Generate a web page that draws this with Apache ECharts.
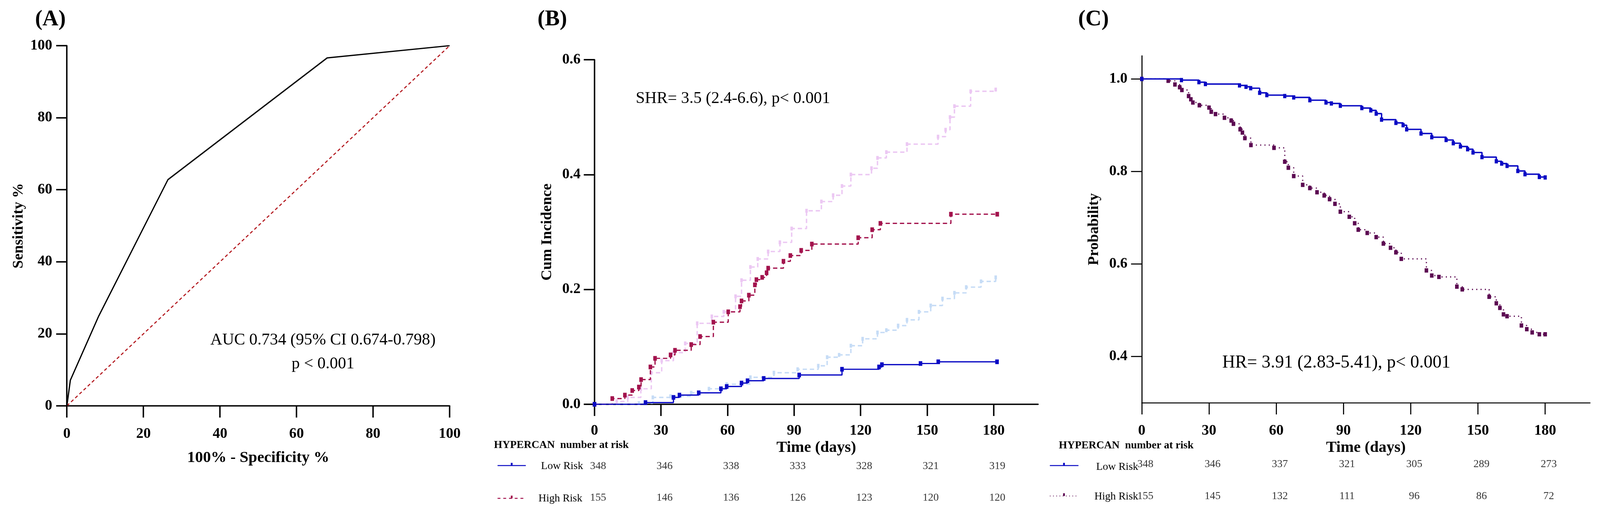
<!DOCTYPE html>
<html>
<head>
<meta charset="utf-8">
<script src="https://cdn.jsdelivr.net/npm/echarts@6/dist/echarts.min.js"></script>
<style>
html,body{margin:0;padding:0;background:#fff;overflow:hidden;}
#c{position:absolute;left:0;top:0;}
</style>
</head>
<body>
<div id="c"></div>
<script>
// ---------- DATA ----------
// Panel A: ROC curve
const rocFPR = [0, 0.9, 8.3, 26.4, 68.0, 100];
const rocTPR = [0, 7.1, 24.9, 62.8, 96.6, 100];
const refFPR = [0, 100];
const refTPR = [0, 100];

// Panel B: cumulative incidence (day at which value starts, value)
const bLowDays  = [0, 23, 35.6, 38.3, 47, 57, 59.6, 66.3, 69, 76.3, 92.3, 111.6, 128.3, 129.6, 147, 155, 181.5];
const bLowCum   = [0, 0.003, 0.012, 0.016, 0.02, 0.027, 0.031, 0.037, 0.041, 0.045, 0.051, 0.061, 0.065, 0.069, 0.071, 0.074, 0.074];
const bHighDays = [0, 8, 13.7, 17, 20, 21, 25.2, 27.3, 34.3, 36.3, 43.6, 47.6, 53.6, 60.3, 65.6, 66.3, 69.6, 72.3, 73, 75.6, 77.6, 78.3, 85.2, 88.3, 93.2, 98, 118.9, 125.2, 128.9, 160.7, 181.6];
const bHighCum  = [0, 0.01, 0.016, 0.024, 0.03, 0.043, 0.065, 0.08, 0.086, 0.094, 0.104, 0.118, 0.143, 0.161, 0.17, 0.18, 0.19, 0.208, 0.217, 0.221, 0.229, 0.237, 0.249, 0.259, 0.268, 0.279, 0.29, 0.304, 0.315, 0.331, 0.331];
const bLowCompDays  = [0, 20, 26.3, 34.3, 43.6, 51.6, 59.6, 70.3, 80.9, 91.6, 100.9, 104.9, 110.3, 115.6, 120.9, 127.6, 131.6, 136.9, 140.9, 146.3, 151.6, 156.9, 162.3, 167.6, 174.3, 180.9];
const bLowCompCum   = [0, 0.002, 0.012, 0.014, 0.02, 0.027, 0.035, 0.047, 0.055, 0.061, 0.067, 0.082, 0.086, 0.102, 0.114, 0.125, 0.129, 0.137, 0.147, 0.161, 0.172, 0.184, 0.194, 0.204, 0.214, 0.221];
const bHighCompDays = [0, 10, 15, 20.9, 25.6, 30.3, 35.6, 40.9, 46.3, 52.9, 58.3, 63.6, 66.3, 70.3, 73.6, 78.3, 83.6, 88.9, 95.6, 102.3, 107.6, 111.6, 115.6, 124.9, 127.6, 131.6, 140.9, 154.9, 158.3, 160.3, 162.3, 169.6, 180.9];
const bHighCompCum  = [0, 0.005, 0.012, 0.027, 0.055, 0.076, 0.09, 0.106, 0.141, 0.153, 0.161, 0.188, 0.216, 0.239, 0.253, 0.266, 0.282, 0.306, 0.337, 0.353, 0.364, 0.38, 0.4, 0.411, 0.429, 0.439, 0.453, 0.466, 0.478, 0.5, 0.519, 0.545, 0.548];

// Panel C: survival probability
const cLowDays  = [0, 17.7, 25.5, 28.4, 43.6, 46.5, 48.6, 52.6, 55.8, 63.8, 67.8, 75, 82.2, 84.6, 88.6, 98.2, 102.2, 104.6, 107, 113.4, 116.6, 118.2, 124.6, 129.4, 135.8, 139, 142.2, 145.4, 147.8, 151.8, 158.2, 160.6, 163, 167.8, 171, 177.4, 180];
const cLowProb  = [1, 0.9975, 0.993, 0.989, 0.986, 0.983, 0.98, 0.97, 0.965, 0.963, 0.96, 0.954, 0.949, 0.947, 0.942, 0.937, 0.932, 0.925, 0.912, 0.905, 0.9, 0.891, 0.882, 0.874, 0.868, 0.861, 0.854, 0.848, 0.841, 0.831, 0.822, 0.817, 0.812, 0.801, 0.794, 0.788, 0.787];
const cHighDays = [0, 11.8, 14.8, 16.9, 17.9, 20.9, 21.9, 22.8, 25.7, 30, 31, 32.9, 36.9, 39.9, 40.9, 43.9, 44.9, 46, 48.7, 59, 63.8, 65.4, 67.8, 71.8, 75, 78.2, 81.4, 83.8, 86.2, 88.6, 92.6, 95, 96.6, 100.6, 104.6, 107.8, 111, 113.4, 115.8, 127, 129.4, 132.6, 140.6, 143, 155, 158.2, 159.8, 161.4, 163, 169.4, 171.8, 174.2, 177.4, 180];
const cHighProb = [1, 0.996, 0.988, 0.982, 0.976, 0.963, 0.956, 0.949, 0.943, 0.938, 0.929, 0.924, 0.916, 0.91, 0.903, 0.891, 0.884, 0.872, 0.857, 0.851, 0.821, 0.808, 0.79, 0.771, 0.764, 0.755, 0.748, 0.74, 0.73, 0.713, 0.702, 0.688, 0.674, 0.667, 0.658, 0.644, 0.635, 0.625, 0.611, 0.586, 0.575, 0.572, 0.551, 0.545, 0.529, 0.515, 0.505, 0.491, 0.487, 0.467, 0.459, 0.452, 0.448, 0.448];

// Number at risk tables
const riskTimes = [0, 30, 60, 90, 120, 150, 180];
const riskGroups = ['Low Risk', 'High Risk'];
const bRiskLow  = [348, 346, 338, 333, 328, 321, 319];
const bRiskHigh = [155, 146, 136, 126, 123, 120, 120];
const cRiskLow  = [348, 346, 337, 321, 305, 289, 273];
const cRiskHigh = [155, 145, 132, 111, 96, 86, 72];
const dayTicks = [0, 30, 60, 90, 120, 150, 180];
const probTicks = [0.4, 0.6, 0.8, 1.0];

// ---------- LAYOUT (designed on a 4473 x 1312 frame, fitted to the viewport) ----------
const W0 = 4473, H0 = 1312;
const vw = window.innerWidth || W0, vh = window.innerHeight || H0;
const kx = vw / W0, ky = vh / H0;
const X = v => v * kx;          // horizontal distances
const Y = v => v * ky;          // vertical distances
const F = v => v * kx;          // font sizes / line widths
const el = document.getElementById('c');
el.style.width = vw + 'px';
el.style.height = vh + 'px';

const zip = (a, b) => a.map((v, i) => [v, b[i]]);
const riskData = (low, high) => riskTimes.map((t, i) => [t, 0, low[i]]).concat(riskTimes.map((t, i) => [t, 1, high[i]]));

const SERIF = "'Liberation Serif', 'DejaVu Serif', serif";
const BLUE = '#0a0ac4';
const CRIMSON = '#a3134d';
const LIGHTBLUE = '#c6dcf6';
const LAVENDER = '#ecc8f3';
const PURPLE = '#5c0a52';
const fnt = (px, bold) => (bold ? 'bold ' : '') + F(px) + 'px ' + SERIF;

function axisBase(lw, tickLen) {
  return {
    axisLine: {show: true, onZero: false, lineStyle: {color: '#000', width: F(lw)}},
    axisTick: {show: true, inside: false, length: tickLen, lineStyle: {color: '#000', width: F(lw)}},
    splitLine: {show: false}
  };
}
const lab = (margin, extra) => Object.assign({margin: margin, fontFamily: SERIF, fontWeight: 'bold', fontSize: F(41), color: '#000'}, extra || {});
const nameStyle = px => ({fontFamily: SERIF, fontWeight: 'bold', fontSize: F(px), color: '#000'});
const txt = (x, y, text, font, align) => ({type: 'text', x: X(x), y: Y(y),
  style: {text: text, font: font, fill: '#000', textAlign: align || 'center', textVerticalAlign: 'middle'}});

const chart = echarts.init(el, null, {renderer: 'canvas'});

const option = {
  animation: false,
  backgroundColor: '#fff',
  textStyle: {fontFamily: SERIF},
  grid: [
    {left: X(187), top: Y(117), width: X(1070), height: Y(923), outerBoundsMode: 'none'},
    {left: X(1662), top: Y(153), width: X(1240), height: Y(883), outerBoundsMode: 'none'},
    {left: X(1662), top: Y(1195), width: X(1240), height: Y(81), outerBoundsMode: 'none'},
    {left: X(3192), top: Y(143), width: X(1253), height: Y(889), outerBoundsMode: 'none'},
    {left: X(3192), top: Y(1190), width: X(1253), height: Y(82), outerBoundsMode: 'none'}
  ],
  xAxis: [
    Object.assign(axisBase(4, Y(30)), {
      gridIndex: 0, type: 'value', min: 0, max: 100, interval: 20,
      name: '100% - Specificity %', nameLocation: 'middle', nameGap: Y(114), nameTextStyle: nameStyle(44),
      axisLabel: lab(Y(53))
    }),
    Object.assign(axisBase(4, Y(30)), {
      gridIndex: 1, type: 'value', min: 0, max: 200,
      name: 'Time (days)', nameLocation: 'middle', nameGap: Y(80), nameTextStyle: nameStyle(44),
      axisTick: {show: true, inside: false, length: Y(30), customValues: dayTicks, lineStyle: {color: '#000', width: F(4)}},
      axisLabel: lab(Y(49), {customValues: dayTicks})
    }),
    {gridIndex: 2, type: 'value', min: 0, max: 200, show: false},
    Object.assign(axisBase(3, Y(30)), {
      gridIndex: 3, type: 'value', min: 0, max: 200,
      name: 'Time (days)', nameLocation: 'middle', nameGap: Y(82), nameTextStyle: nameStyle(44),
      axisTick: {show: true, inside: false, length: Y(30), customValues: dayTicks, lineStyle: {color: '#000', width: F(3)}},
      axisLabel: lab(Y(53), {customValues: dayTicks})
    }),
    {gridIndex: 4, type: 'value', min: 0, max: 200, show: false}
  ],
  yAxis: [
    Object.assign(axisBase(4, X(30)), {
      gridIndex: 0, type: 'value', min: 0, max: 100, interval: 20,
      name: 'Sensitivity %', nameLocation: 'middle', nameGap: X(114), nameRotate: 90, nameTextStyle: nameStyle(42),
      axisLabel: lab(X(41))
    }),
    Object.assign(axisBase(4, X(30)), {
      gridIndex: 1, type: 'value', min: 0, max: 0.6, interval: 0.2,
      name: 'Cum Incidence', nameLocation: 'middle', nameGap: X(111), nameRotate: 90, nameTextStyle: nameStyle(42),
      axisLabel: lab(X(39), {formatter: v => v.toFixed(1)})
    }),
    {gridIndex: 2, type: 'value', min: 0, max: 1, inverse: true, show: false},
    Object.assign(axisBase(3, X(30)), {
      gridIndex: 3, type: 'value', min: 0.3, max: 1.05,
      name: 'Probability', nameLocation: 'middle', nameGap: X(112), nameRotate: 90, nameTextStyle: nameStyle(42),
      axisTick: {show: true, inside: false, length: X(30), customValues: probTicks, lineStyle: {color: '#000', width: F(3)}},
      axisLabel: lab(X(40), {customValues: probTicks, formatter: v => v.toFixed(1)})
    }),
    {gridIndex: 4, type: 'value', min: 0, max: 1, inverse: true, show: false}
  ],
  series: [
    // Panel A
    {name: 'Reference', type: 'line', xAxisIndex: 0, yAxisIndex: 0, data: zip(refFPR, refTPR), symbol: 'none',
      lineStyle: {color: '#b3161c', width: F(3), type: [F(9), F(7)]}, z: 2},
    {name: 'ROC', type: 'line', xAxisIndex: 0, yAxisIndex: 0, data: zip(rocFPR, rocTPR), symbol: 'none',
      lineStyle: {color: '#000', width: F(3.5)}, z: 3},
    // Panel B
    {name: 'High Risk (competing)', type: 'line', step: 'end', xAxisIndex: 1, yAxisIndex: 1, data: zip(bHighCompDays, bHighCompCum),
      symbol: 'rect', symbolSize: [X(7), Y(10)], itemStyle: {color: LAVENDER}, lineStyle: {color: LAVENDER, width: F(4), type: [F(12), F(8)]}, z: 2},
    {name: 'Low Risk (competing)', type: 'line', step: 'end', xAxisIndex: 1, yAxisIndex: 1, data: zip(bLowCompDays, bLowCompCum),
      symbol: 'rect', symbolSize: [X(7), Y(10)], itemStyle: {color: LIGHTBLUE}, lineStyle: {color: LIGHTBLUE, width: F(4), type: [F(12), F(8)]}, z: 2},
    {name: 'High Risk', type: 'line', step: 'end', xAxisIndex: 1, yAxisIndex: 1, data: zip(bHighDays, bHighCum),
      symbol: 'rect', symbolSize: [X(10), Y(12)], itemStyle: {color: CRIMSON}, lineStyle: {color: CRIMSON, width: F(3.5), type: [F(12), F(8)]}, z: 3},
    {name: 'Low Risk', type: 'line', step: 'end', xAxisIndex: 1, yAxisIndex: 1, data: zip(bLowDays, bLowCum),
      symbol: 'rect', symbolSize: [X(10), Y(12)], itemStyle: {color: BLUE}, lineStyle: {color: BLUE, width: F(3.5)}, z: 4},
    // Panel B risk table
    {name: 'B at risk', type: 'scatter', xAxisIndex: 2, yAxisIndex: 2, data: riskData(bRiskLow, bRiskHigh), symbolSize: 0,
      label: {show: true, position: 'inside', offset: [X(10), 0], formatter: p => p.value[2], fontFamily: SERIF, fontSize: F(30), color: '#000'}},
    // Panel C
    {name: 'Low Risk', type: 'line', step: 'end', xAxisIndex: 3, yAxisIndex: 3, data: zip(cLowDays, cLowProb),
      symbol: 'rect', symbolSize: [X(9), Y(11)], itemStyle: {color: BLUE}, lineStyle: {color: BLUE, width: F(4)}, z: 4},
    {name: 'High Risk', type: 'line', step: 'end', xAxisIndex: 3, yAxisIndex: 3, data: zip(cHighDays, cHighProb),
      symbol: 'rect', symbolSize: [X(10), Y(11)], itemStyle: {color: PURPLE}, lineStyle: {color: PURPLE, width: F(3.5), type: [F(3), F(9)]}, z: 3},
    // Panel C risk table
    {name: 'C at risk', type: 'scatter', xAxisIndex: 4, yAxisIndex: 4, data: riskData(cRiskLow, cRiskHigh), symbolSize: 0,
      label: {show: true, position: 'inside', offset: [X(10), 0], formatter: p => p.value[2], fontFamily: SERIF, fontSize: F(30), color: '#000'}}
  ],
  graphic: [
    txt(141, 50, '(A)', fnt(62, true)),
    txt(1544, 50, '(B)', fnt(62, true)),
    txt(3057, 50, '(C)', fnt(62, true)),
    txt(903, 872, 'AUC 0.734 (95% CI 0.674-0.798)', fnt(46)),
    txt(903, 933, 'p < 0.001', fnt(46)),
    txt(2049, 253, 'SHR= 3.5 (2.4-6.6), p< 0.001', fnt(46)),
    txt(3736, 930, 'HR= 3.91 (2.83-5.41), p< 0.001', fnt(50)),
    // Risk table B labels
    txt(1381, 1141, 'HYPERCAN  number at risk', fnt(30, true), 'left'),
    txt(1630, 1195, riskGroups[0], fnt(30), 'right'),
    txt(1628, 1278, riskGroups[1], fnt(30), 'right'),
    {type: 'line', shape: {x1: X(1391), y1: Y(1193), x2: X(1470), y2: Y(1193)}, style: {stroke: BLUE, lineWidth: F(3)}},
    {type: 'rect', shape: {x: X(1428), y: Y(1186), width: X(5), height: Y(7)}, style: {fill: BLUE}},
    {type: 'line', shape: {x1: X(1391), y1: Y(1277), x2: X(1470), y2: Y(1277)}, style: {stroke: CRIMSON, lineWidth: F(3), lineDash: [F(8), F(8)]}},
    {type: 'rect', shape: {x: X(1428), y: Y(1270), width: X(5), height: Y(7)}, style: {fill: CRIMSON}},
    // Risk table C labels
    txt(2960, 1142, 'HYPERCAN  number at risk', fnt(30, true), 'left'),
    txt(3182, 1197, riskGroups[0], fnt(30), 'right'),
    txt(3182, 1273, riskGroups[1], fnt(30), 'right'),
    {type: 'line', shape: {x1: X(2935), y1: Y(1193), x2: X(3015), y2: Y(1193)}, style: {stroke: BLUE, lineWidth: F(3)}},
    {type: 'rect', shape: {x: X(2972), y: Y(1186), width: X(5), height: Y(7)}, style: {fill: BLUE}},
    {type: 'line', shape: {x1: X(2935), y1: Y(1271), x2: X(3015), y2: Y(1271)}, style: {stroke: PURPLE, lineWidth: F(2), lineDash: [F(2), F(7)]}},
    {type: 'rect', shape: {x: X(2972), y: Y(1264), width: X(5), height: Y(7)}, style: {fill: PURPLE}}
  ]
};
chart.setOption(option);
</script>
</body>
</html>
